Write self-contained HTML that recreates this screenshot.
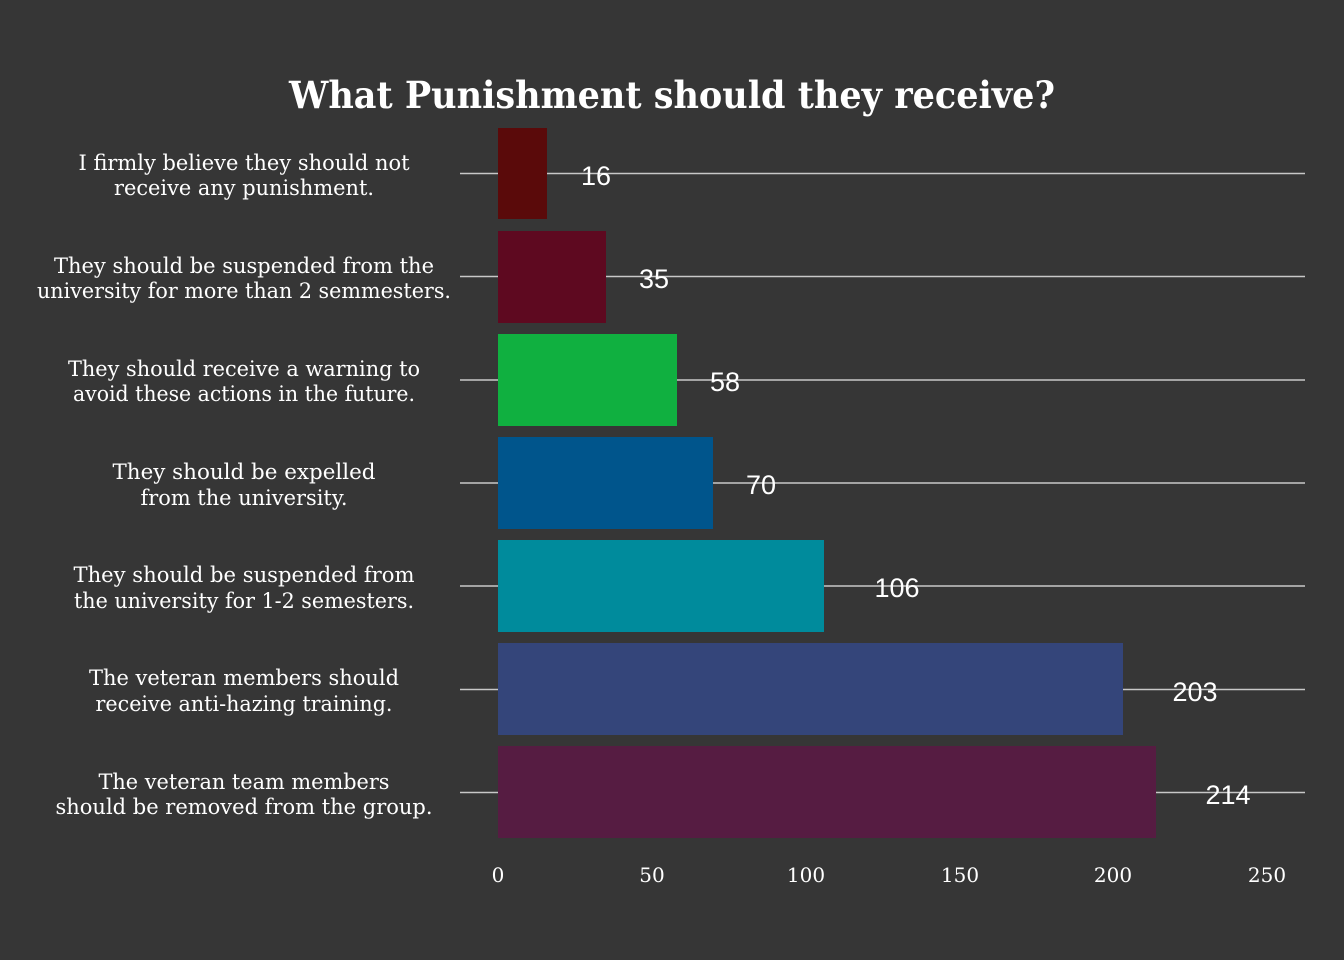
<!DOCTYPE html>
<html><head><meta charset="utf-8"><style>
body{margin:0;background:#363636;}
svg{display:block}
</style></head><body>
<svg width="1344" height="960" xmlns="http://www.w3.org/2000/svg">
<rect width="1344" height="960" fill="#363636"/>
<text x="672" y="108" text-anchor="middle" font-family="DejaVu Serif, serif" font-weight="bold" font-size="37" fill="#ffffff" textLength="766" lengthAdjust="spacingAndGlyphs">What Punishment should they receive?</text>
<g stroke="#c8c8c8" stroke-width="1.5">
<line x1="460" x2="1305" y1="173.5" y2="173.5"/>
<line x1="460" x2="1305" y1="276.5" y2="276.5"/>
<line x1="460" x2="1305" y1="380" y2="380"/>
<line x1="460" x2="1305" y1="483" y2="483"/>
<line x1="460" x2="1305" y1="586" y2="586"/>
<line x1="460" x2="1305" y1="689.5" y2="689.5"/>
<line x1="460" x2="1305" y1="792.5" y2="792.5"/>
</g>
<rect x="498" y="128" width="49" height="91" fill="#5a0a0a"/>
<rect x="498" y="231" width="108" height="92" fill="#5e0920"/>
<rect x="498" y="334" width="179" height="92" fill="#10b040"/>
<rect x="498" y="437" width="215" height="92" fill="#00558c"/>
<rect x="498" y="540" width="326" height="92" fill="#008b9c"/>
<rect x="498" y="643" width="625" height="92" fill="#34457a"/>
<rect x="498" y="746" width="658" height="92" fill="#561c42"/>
<g font-family="Liberation Sans, sans-serif" font-size="27" fill="#ffffff" text-anchor="middle">
<text x="596" y="185">16</text>
<text x="654" y="288">35</text>
<text x="725" y="391">58</text>
<text x="761" y="494">70</text>
<text x="897" y="597">106</text>
<text x="1195" y="701">203</text>
<text x="1228" y="804">214</text>
</g>
<g font-family="DejaVu Serif, serif" font-size="21" fill="#ffffff" text-anchor="middle">
<text x="244" y="170" textLength="331" lengthAdjust="spacingAndGlyphs">I firmly believe they should not</text>
<text x="244" y="195" textLength="260" lengthAdjust="spacingAndGlyphs">receive any punishment.</text>
<text x="244" y="273" textLength="380" lengthAdjust="spacingAndGlyphs">They should be suspended from the</text>
<text x="244" y="298" textLength="414" lengthAdjust="spacingAndGlyphs">university for more than 2 semmesters.</text>
<text x="244" y="376" textLength="352" lengthAdjust="spacingAndGlyphs">They should receive a warning to</text>
<text x="244" y="401" textLength="342" lengthAdjust="spacingAndGlyphs">avoid these actions in the future.</text>
<text x="244" y="479" textLength="263" lengthAdjust="spacingAndGlyphs">They should be expelled</text>
<text x="244" y="505" textLength="207" lengthAdjust="spacingAndGlyphs">from the university.</text>
<text x="244" y="582" textLength="341" lengthAdjust="spacingAndGlyphs">They should be suspended from</text>
<text x="244" y="608" textLength="340" lengthAdjust="spacingAndGlyphs">the university for 1-2 semesters.</text>
<text x="244" y="685" textLength="310" lengthAdjust="spacingAndGlyphs">The veteran members should</text>
<text x="244" y="711" textLength="297" lengthAdjust="spacingAndGlyphs">receive anti-hazing training.</text>
<text x="244" y="789" textLength="291" lengthAdjust="spacingAndGlyphs">The veteran team members</text>
<text x="244" y="814" textLength="377" lengthAdjust="spacingAndGlyphs">should be removed from the group.</text>
</g>
<g font-family="DejaVu Serif, serif" font-size="20" fill="#ffffff" text-anchor="middle">
<text x="498" y="882">0</text>
<text x="652" y="882">50</text>
<text x="806" y="882">100</text>
<text x="960" y="882">150</text>
<text x="1113" y="882">200</text>
<text x="1267" y="882">250</text>
</g>
</svg>
</body></html>
